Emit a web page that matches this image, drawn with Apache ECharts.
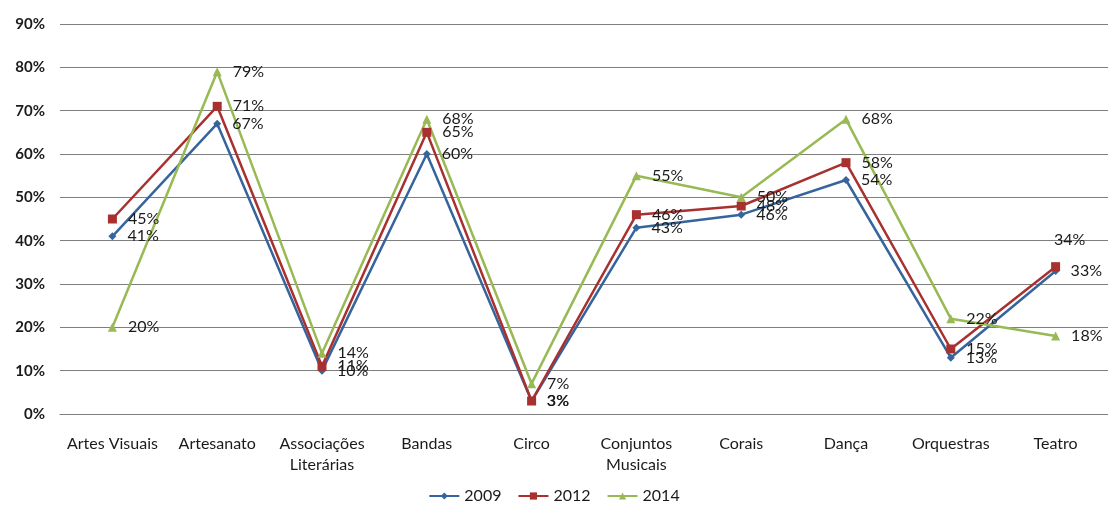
<!DOCTYPE html>
<html>
<head>
<meta charset="utf-8">
<style>
  html, body { margin: 0; padding: 0; background: #fff; }
  #chart { width: 1108px; height: 508px; }
</style>
<script src="https://cdn.jsdelivr.net/npm/echarts@6/dist/echarts.min.js"></script>
</head>
<body>
<div id="chart"></div>
<script>
// Categorias culturais
const categories = [
  'Artes Visuais', 'Artesanato', 'Associações\nLiterárias', 'Bandas', 'Circo',
  'Conjuntos\nMusicais', 'Corais', 'Dança', 'Orquestras', 'Teatro'
];

// Percentuais por ano
const values2009 = [41, 67, 10, 60, 3, 43, 46, 54, 13, 33];
const values2012 = [45, 71, 11, 65, 3, 46, 48, 58, 15, 34];
const values2014 = [20, 79, 14, 68, 7, 55, 50, 68, 22, 18];

const yTicks = [0, 10, 20, 30, 40, 50, 60, 70, 80, 90];

const FONT = 'Lato, "Open Sans", sans-serif';
const TEXT = '#1a1a1a';

const baseLabel = {
  show: true,
  position: 'right',
  distance: 11,
  color: TEXT,
  fontFamily: FONT,
  fontSize: 16,
  formatter: p => p.value + '%'
};

// Per-point label tweaks (index -> label overrides)
function buildData(values, overrides) {
  return values.map((v, i) => overrides && overrides[i]
    ? { value: v, label: overrides[i] }
    : v);
}

function makeSeries(name, values, color, symbol, size, overrides) {
  return {
    name: name,
    type: 'line',
    data: buildData(values, overrides),
    symbol: symbol,
    symbolSize: size,
    lineStyle: { color: color, width: 2.5 },
    itemStyle: { color: color },
    label: baseLabel,
    emphasis: { disabled: true },
    animation: false,
    z: 3
  };
}

const chart = echarts.init(document.getElementById('chart'), null, { renderer: 'canvas' });

chart.setOption({
  backgroundColor: '#ffffff',
  animation: false,
  grid: { left: 60, top: 24, width: 1060, height: 390, containLabel: false },
  legend: {
    bottom: -1,
    left: 'center',
    itemWidth: 30,
    itemHeight: 9,
    itemGap: 16,
    textStyle: { color: TEXT, fontFamily: FONT, fontSize: 16 },
    data: ['2009', '2012', '2014']
  },
  xAxis: {
    type: 'category',
    data: categories,
    boundaryGap: true,
    axisLine: { lineStyle: { color: '#7f7f7f', width: 1.2 } },
    axisTick: { show: false },
    axisLabel: {
      color: TEXT,
      fontFamily: FONT,
      fontSize: 16,
      margin: 19,
      lineHeight: 21,
      interval: 0
    }
  },
  yAxis: {
    type: 'value',
    min: yTicks[0],
    max: yTicks[yTicks.length - 1],
    interval: 10,
    axisLine: { show: false },
    axisTick: { show: false },
    splitLine: { lineStyle: { color: '#7f7f7f', width: 1.2 } },
    axisLabel: {
      color: TEXT,
      fontFamily: FONT,
      fontSize: 15,
      fontWeight: 'bold',
      margin: 15,
      formatter: v => v + '%'
    }
  },
  series: [
    makeSeries('2009', values2009, '#35659c', 'diamond', 8),
    makeSeries('2012', values2012, '#a8302f', 'rect', 9, {
      9: { position: 'top', distance: 14, offset: [14, 0] }
    }),
    makeSeries('2014', values2014, '#98b954', 'triangle', 9)
  ]
});
</script>
</body>
</html>
